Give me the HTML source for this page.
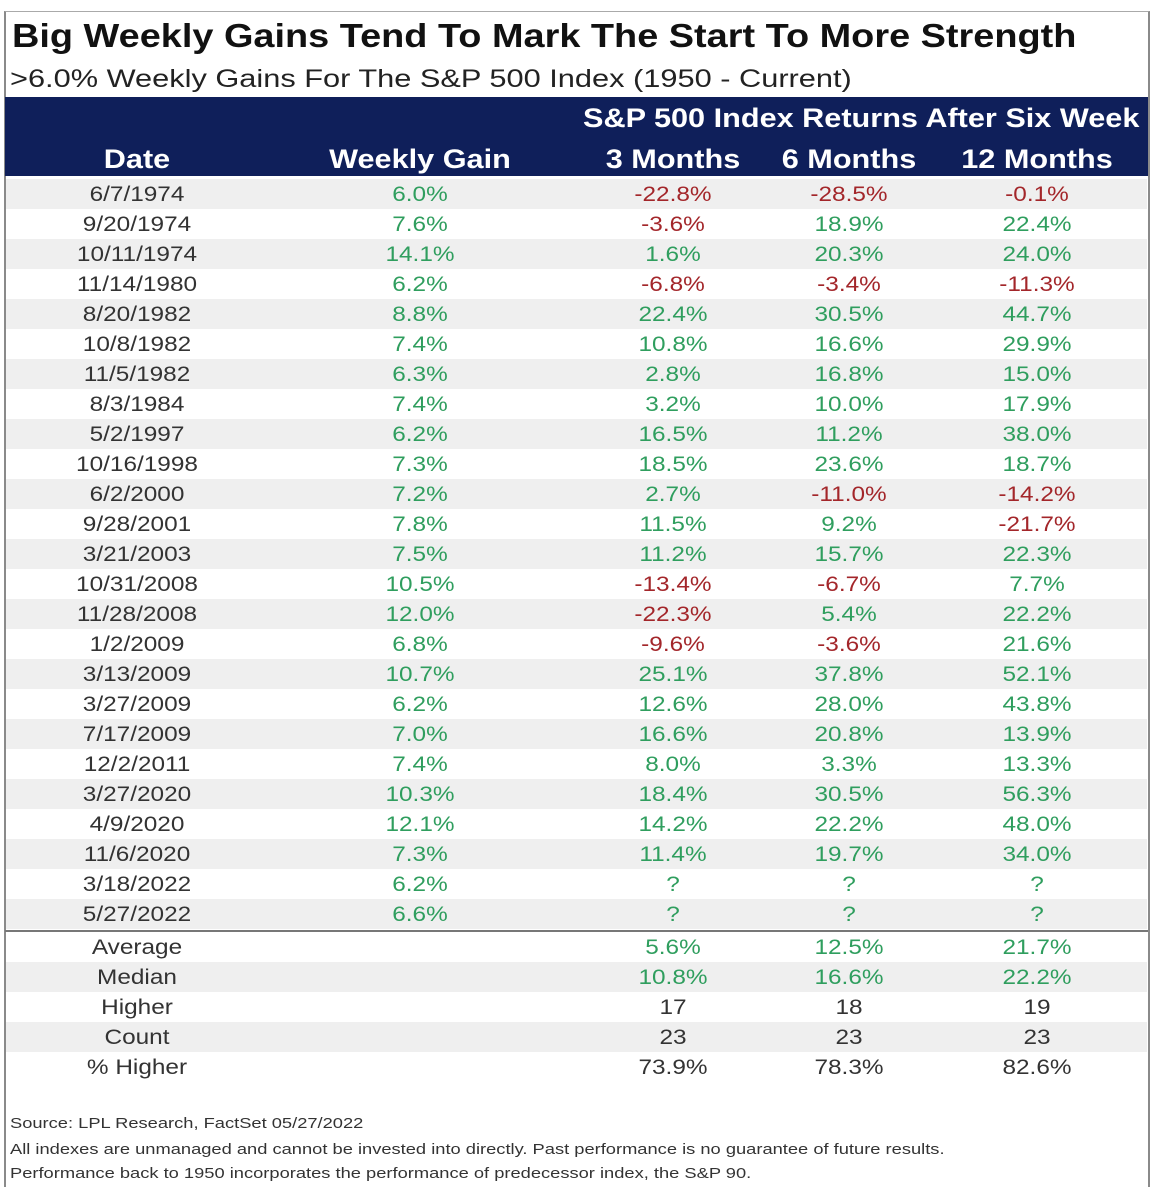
<!DOCTYPE html>
<html><head><meta charset="utf-8"><style>
body{margin:0;width:1160px;height:1200px;background:#fff;position:relative;font-family:"Liberation Sans",Arial,sans-serif;overflow:hidden}
.frame{position:absolute;left:4px;top:11px;width:1142px;height:1175px;border:2px solid #8a8a8a;border-bottom:none;border-top:1px solid #aaa}
.t{position:absolute;left:12px;top:17px;font-size:33px;font-weight:bold;color:#111;white-space:nowrap;transform:scaleX(1.148);transform-origin:left center}
.s{position:absolute;left:10px;top:65px;font-size:25px;color:#222;white-space:nowrap;transform:scaleX(1.23);transform-origin:left center}
.hd{position:absolute;left:5px;top:97px;width:1143px;height:79px;background:#0f1f5a}
.h{position:absolute;color:#fff;font-weight:bold;font-size:27px;white-space:nowrap;text-align:center;transform:scaleX(1.135)}
.r{position:absolute;left:6px;width:1141px;height:30px;font-size:21px;color:#333}
.r.g{background:#efefef}
.r span{position:absolute;top:4px;text-align:center;transform:scaleX(1.16)}
.a{left:31px;width:200px}.b{left:314px;width:200px}.c{left:587px;width:160px}.d{left:763px;width:160px}.e{left:951px;width:160px}
.p{color:#2f9e5e}.n{color:#a3262a}
.sep{position:absolute;left:5px;top:930px;width:1143px;height:2px;background:#777}
.f{position:absolute;left:10px;font-size:15px;color:#333;white-space:nowrap;transform:scaleX(1.22);transform-origin:left center}
</style></head><body>
<div class="frame"></div>
<div class="t">Big Weekly Gains Tend To Mark The Start To More Strength</div>
<div class="s">&gt;6.0% Weekly Gains For The S&amp;P 500 Index (1950 - Current)</div>
<div class="hd"></div>
<div class="h" style="left:583px;top:103px;transform-origin:left center">S&amp;P 500 Index Returns After Six Week</div>
<div class="h" style="left:37px;width:200px;top:144px">Date</div>
<div class="h" style="left:320px;width:200px;top:144px">Weekly Gain</div>
<div class="h" style="left:583px;width:180px;top:144px">3 Months</div>
<div class="h" style="left:759px;width:180px;top:144px">6 Months</div>
<div class="h" style="left:947px;width:180px;top:144px">12 Months</div>

<div class="r g" style="top:179px"><span class="a">6/7/1974</span><span class="b p">6.0%</span><span class="c n">-22.8%</span><span class="d n">-28.5%</span><span class="e n">-0.1%</span></div>
<div class="r" style="top:209px"><span class="a">9/20/1974</span><span class="b p">7.6%</span><span class="c n">-3.6%</span><span class="d p">18.9%</span><span class="e p">22.4%</span></div>
<div class="r g" style="top:239px"><span class="a">10/11/1974</span><span class="b p">14.1%</span><span class="c p">1.6%</span><span class="d p">20.3%</span><span class="e p">24.0%</span></div>
<div class="r" style="top:269px"><span class="a">11/14/1980</span><span class="b p">6.2%</span><span class="c n">-6.8%</span><span class="d n">-3.4%</span><span class="e n">-11.3%</span></div>
<div class="r g" style="top:299px"><span class="a">8/20/1982</span><span class="b p">8.8%</span><span class="c p">22.4%</span><span class="d p">30.5%</span><span class="e p">44.7%</span></div>
<div class="r" style="top:329px"><span class="a">10/8/1982</span><span class="b p">7.4%</span><span class="c p">10.8%</span><span class="d p">16.6%</span><span class="e p">29.9%</span></div>
<div class="r g" style="top:359px"><span class="a">11/5/1982</span><span class="b p">6.3%</span><span class="c p">2.8%</span><span class="d p">16.8%</span><span class="e p">15.0%</span></div>
<div class="r" style="top:389px"><span class="a">8/3/1984</span><span class="b p">7.4%</span><span class="c p">3.2%</span><span class="d p">10.0%</span><span class="e p">17.9%</span></div>
<div class="r g" style="top:419px"><span class="a">5/2/1997</span><span class="b p">6.2%</span><span class="c p">16.5%</span><span class="d p">11.2%</span><span class="e p">38.0%</span></div>
<div class="r" style="top:449px"><span class="a">10/16/1998</span><span class="b p">7.3%</span><span class="c p">18.5%</span><span class="d p">23.6%</span><span class="e p">18.7%</span></div>
<div class="r g" style="top:479px"><span class="a">6/2/2000</span><span class="b p">7.2%</span><span class="c p">2.7%</span><span class="d n">-11.0%</span><span class="e n">-14.2%</span></div>
<div class="r" style="top:509px"><span class="a">9/28/2001</span><span class="b p">7.8%</span><span class="c p">11.5%</span><span class="d p">9.2%</span><span class="e n">-21.7%</span></div>
<div class="r g" style="top:539px"><span class="a">3/21/2003</span><span class="b p">7.5%</span><span class="c p">11.2%</span><span class="d p">15.7%</span><span class="e p">22.3%</span></div>
<div class="r" style="top:569px"><span class="a">10/31/2008</span><span class="b p">10.5%</span><span class="c n">-13.4%</span><span class="d n">-6.7%</span><span class="e p">7.7%</span></div>
<div class="r g" style="top:599px"><span class="a">11/28/2008</span><span class="b p">12.0%</span><span class="c n">-22.3%</span><span class="d p">5.4%</span><span class="e p">22.2%</span></div>
<div class="r" style="top:629px"><span class="a">1/2/2009</span><span class="b p">6.8%</span><span class="c n">-9.6%</span><span class="d n">-3.6%</span><span class="e p">21.6%</span></div>
<div class="r g" style="top:659px"><span class="a">3/13/2009</span><span class="b p">10.7%</span><span class="c p">25.1%</span><span class="d p">37.8%</span><span class="e p">52.1%</span></div>
<div class="r" style="top:689px"><span class="a">3/27/2009</span><span class="b p">6.2%</span><span class="c p">12.6%</span><span class="d p">28.0%</span><span class="e p">43.8%</span></div>
<div class="r g" style="top:719px"><span class="a">7/17/2009</span><span class="b p">7.0%</span><span class="c p">16.6%</span><span class="d p">20.8%</span><span class="e p">13.9%</span></div>
<div class="r" style="top:749px"><span class="a">12/2/2011</span><span class="b p">7.4%</span><span class="c p">8.0%</span><span class="d p">3.3%</span><span class="e p">13.3%</span></div>
<div class="r g" style="top:779px"><span class="a">3/27/2020</span><span class="b p">10.3%</span><span class="c p">18.4%</span><span class="d p">30.5%</span><span class="e p">56.3%</span></div>
<div class="r" style="top:809px"><span class="a">4/9/2020</span><span class="b p">12.1%</span><span class="c p">14.2%</span><span class="d p">22.2%</span><span class="e p">48.0%</span></div>
<div class="r g" style="top:839px"><span class="a">11/6/2020</span><span class="b p">7.3%</span><span class="c p">11.4%</span><span class="d p">19.7%</span><span class="e p">34.0%</span></div>
<div class="r" style="top:869px"><span class="a">3/18/2022</span><span class="b p">6.2%</span><span class="c p">?</span><span class="d p">?</span><span class="e p">?</span></div>
<div class="r g" style="top:899px"><span class="a">5/27/2022</span><span class="b p">6.6%</span><span class="c p">?</span><span class="d p">?</span><span class="e p">?</span></div>
<div class="sep"></div>
<div class="r" style="top:932px"><span class="a">Average</span><span class="c p">5.6%</span><span class="d p">12.5%</span><span class="e p">21.7%</span></div>
<div class="r g" style="top:962px"><span class="a">Median</span><span class="c p">10.8%</span><span class="d p">16.6%</span><span class="e p">22.2%</span></div>
<div class="r" style="top:992px"><span class="a">Higher</span><span class="c">17</span><span class="d">18</span><span class="e">19</span></div>
<div class="r g" style="top:1022px"><span class="a">Count</span><span class="c">23</span><span class="d">23</span><span class="e">23</span></div>
<div class="r" style="top:1052px"><span class="a">% Higher</span><span class="c">73.9%</span><span class="d">78.3%</span><span class="e">82.6%</span></div>
<div class="f" style="top:1115px">Source: LPL Research, FactSet 05/27/2022</div>
<div class="f" style="top:1141px">All indexes are unmanaged and cannot be invested into directly. Past performance is no guarantee of future results.</div>
<div class="f" style="top:1165px">Performance back to 1950 incorporates the performance of predecessor index, the S&amp;P 90.</div>
</body></html>
